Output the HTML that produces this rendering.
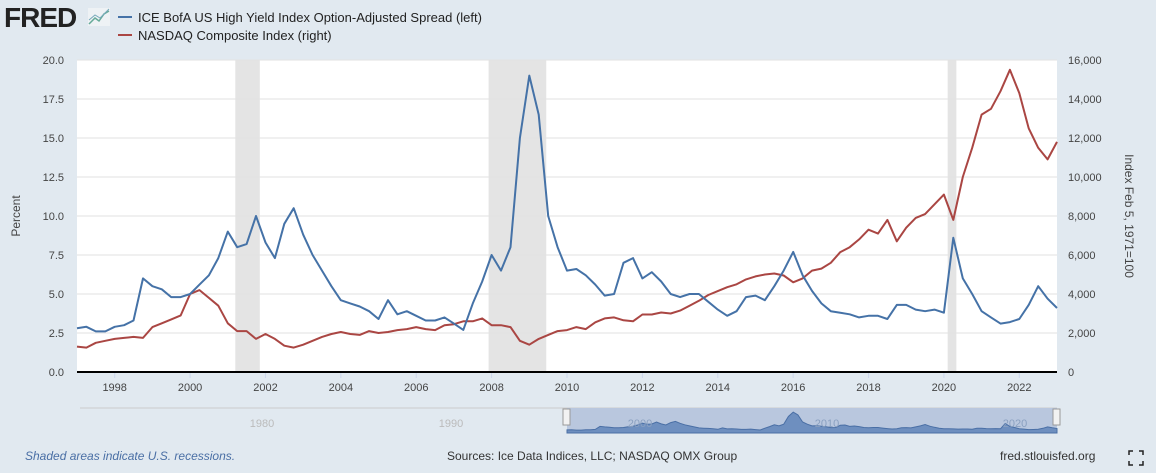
<!DOCTYPE html>
<html><head><meta charset="utf-8"><style>
body{margin:0;background:#e1e9f0;font-family:"Liberation Sans",sans-serif;}
#wrap{position:relative;width:1156px;height:473px;overflow:hidden;}
</style></head><body>
<div id="wrap">
<svg id="svg" width="1156" height="473" xmlns="http://www.w3.org/2000/svg" font-family="Liberation Sans, sans-serif">
  <text x="4" y="27" font-size="28" font-weight="bold" fill="#222" letter-spacing="-1">FRED</text>
  <g><rect x="88" y="8" width="22" height="18" fill="#eef2f5"/><polyline points="89,24 95,18 99,21 104,14 109,11" fill="none" stroke="#6a9" stroke-width="1.5"/><polyline points="89,20 95,15 100,18 109,9" fill="none" stroke="#7ab" stroke-width="1"/></g>
  <line x1="118" y1="17" x2="132" y2="17" stroke="#4572a7" stroke-width="2"/>
  <text x="138" y="22" font-size="13" fill="#222">ICE BofA US High Yield Index Option-Adjusted Spread (left)</text>
  <line x1="118" y1="35" x2="132" y2="35" stroke="#aa4643" stroke-width="2"/>
  <text x="138" y="40" font-size="13" fill="#222">NASDAQ Composite Index (right)</text>
  <rect x="77" y="60" width="980" height="312" fill="#fff"/>
  <g id="rec"></g><g id="grid"></g><g id="xt"></g>
  <line x1="77" y1="372" x2="1057" y2="372" stroke="#000" stroke-width="2"/>
  <g id="series"></g>
  <text transform="translate(20,216) rotate(-90)" text-anchor="middle" font-size="12" fill="#444">Percent</text>
  <text transform="translate(1125,216) rotate(90)" text-anchor="middle" font-size="12" fill="#444">Index Feb 5, 1971=100</text>
  <g>
    <line x1="80" y1="408" x2="1057" y2="408" stroke="#ccc" stroke-width="1"/>
    <text x="262" y="427" font-size="11" fill="#bbb" text-anchor="middle">1980</text>
    <text x="451" y="427" font-size="11" fill="#bbb" text-anchor="middle">1990</text>
    <rect x="567" y="408" width="490" height="25" fill="#b9c7de"/>
    <path id="navpath" fill="#6e8fbf" stroke="#4a6fa5" stroke-width="1"/>
    <text x="640" y="427" font-size="11" fill="#8aa0c0" text-anchor="middle">2000</text>
    <text x="827" y="427" font-size="11" fill="#8aa0c0" text-anchor="middle">2010</text>
    <text x="1015" y="427" font-size="11" fill="#8aa0c0" text-anchor="middle">2020</text>
    <rect x="563" y="409" width="7" height="16" fill="#f2f2f2" stroke="#999"/>
    <rect x="1053" y="409" width="7" height="16" fill="#f2f2f2" stroke="#999"/>
  </g>
  <text x="25" y="460" font-size="12" font-style="italic" fill="#4a6fa5">Shaded areas indicate U.S. recessions.</text>
  <text x="447" y="460" font-size="12" fill="#333">Sources: Ice Data Indices, LLC; NASDAQ OMX Group</text>
  <text x="1000" y="460" font-size="12" fill="#333">fred.stlouisfed.org</text>
  <g stroke="#222" stroke-width="1.5" fill="none"><path d="M1129,455v-4h4M1139,451h4v4M1143,461v4h-4M1133,465h-4v-4"/></g>
</svg>
</div>
<script>
const startYear = 1997;
const spread = [2.8,2.9,2.6,2.6, 2.9,3.0,3.3,6.0, 5.5,5.3,4.8,4.8, 5.0,5.6,6.2,7.3, 9.0,8.0,8.2,10.0, 8.3,7.3,9.5,10.5, 8.8,7.5,6.5,5.5, 4.6,4.4,4.2,3.9, 3.4,4.6,3.7,3.9, 3.6,3.3,3.3,3.5, 3.1,2.7,4.4,5.8, 7.5,6.5,8.0,15.0, 19.0,16.5,10.0,8.0, 6.5,6.6,6.2,5.6, 4.9,5.0,7.0,7.3, 6.0,6.4,5.8,5.0, 4.8,5.0,5.0,4.5, 4.0,3.6,3.9,4.8, 4.9,4.6,5.5,6.5, 7.7,6.2,5.2,4.4, 3.9,3.8,3.7,3.5, 3.6,3.6,3.4,4.3, 4.3,4.0,3.9,4.0, 3.8,8.6,6.0,5.0, 3.9,3.5,3.1,3.2, 3.4,4.3,5.5,4.7, 4.1];
const nasdaq = [1300,1250,1500,1600, 1700,1750,1800,1750, 2300,2500,2700,2900, 4000,4200,3800,3400, 2500,2100,2100,1700, 1950,1700,1350,1250, 1400,1600,1800,1950, 2050,1950,1900,2100, 2000,2050,2150,2200, 2300,2200,2150,2400, 2450,2600,2600,2750, 2400,2400,2300,1600, 1400,1700,1900,2100, 2150,2300,2200,2550, 2750,2800,2650,2600, 2950,2950,3050,3000, 3150,3400,3650,3950, 4150,4350,4500,4750, 4900,5000,5050,4950, 4600,4800,5200,5300, 5600,6150,6400,6800, 7300,7100,7800,6700, 7400,7900,8100,8600, 9100,7800,10000,11500, 13200,13500,14400,15500, 14300,12500,11500,10900, 11800];
const leftTicks = ["0.0","2.5","5.0","7.5","10.0","12.5","15.0","17.5","20.0"];
const rightTicks = ["0","2,000","4,000","6,000","8,000","10,000","12,000","14,000","16,000"];
const yearTicks = [1998,2000,2002,2004,2006,2008,2010,2012,2014,2016,2018,2020,2022];
const recessions = [[2001.2,2001.85],[2007.92,2009.45],[2020.1,2020.33]];

const X=t=>77+(t-1997)*(980/26);
const YL=v=>372-v*312/20;
const YR=v=>372-v*312/16000;
const NS="http://www.w3.org/2000/svg";
function mk(tag,attrs,parent){const e=document.createElementNS(NS,tag);for(const k in attrs)e.setAttribute(k,attrs[k]);parent.appendChild(e);return e;}
const rec=document.getElementById('rec'),grid=document.getElementById('grid'),xt=document.getElementById('xt'),ser=document.getElementById('series');
recessions.forEach(r=>{const e=mk('rect',{x:X(r[0]),y:60,width:X(r[1])-X(r[0]),height:312,fill:'#e4e4e4'},rec);

});
leftTicks.forEach((l,i)=>{const v=parseFloat(l);const y=YL(v);
if(i>0){const g=mk('line',{x1:77,y1:y,x2:1057,y2:y,stroke:'#e2e2e2','stroke-width':1},grid);

}
const t=mk('text',{x:64,y:y+4,'text-anchor':'end','font-size':11,fill:'#444'},grid);t.textContent=l;

});
rightTicks.forEach((l,i)=>{const v=parseFloat(l.replace(/,/g,''));const t=mk('text',{x:1068,y:YR(v)+4,'font-size':11,fill:'#444'},grid);t.textContent=l;

});
yearTicks.forEach(yr=>{const x=X(yr);mk('line',{x1:x,y1:372,x2:x,y2:378,stroke:'#ccd6eb'},xt);
const t=mk('text',{x:x,y:391,'text-anchor':'middle','font-size':11,fill:'#444'},xt);t.textContent=yr;

});
function line(arr,Y,color,name){const p=arr.map((v,i)=>X(startYear+i/4).toFixed(1)+','+Y(v).toFixed(1)).join(' ');
const e=mk('polyline',{points:p,fill:'none',stroke:color,'stroke-width':2,'stroke-linejoin':'round'},ser);

}
line(nasdaq,YR,'#aa4643','nasdaq-line');
line(spread,YL,'#4572a7','spread-line');
// navigator mini chart
const NX=t=>567+(t-1997)*(490/26);const NY=v=>433-v*22/20;
let d='M567,433 '+spread.map((v,i)=>'L'+NX(startYear+i/4).toFixed(1)+','+NY(v).toFixed(1)).join(' ')+' L1057,433 Z';
document.getElementById('navpath').setAttribute('d',d);
</script>
</body></html>
